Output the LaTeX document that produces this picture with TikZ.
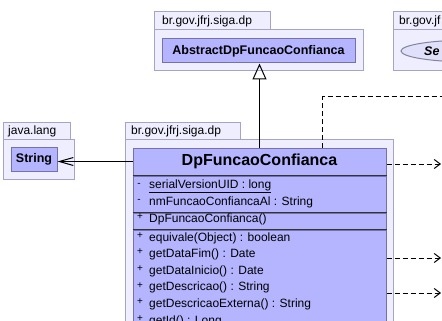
\documentclass[tikz,border=0pt]{standalone}
\usepackage{fontspec}
\setmainfont{Liberation Sans}
\usetikzlibrary{arrows.meta,shapes.geometric}

\definecolor{pkgfill}{RGB}{238,238,255}
\definecolor{pkgline}{RGB}{165,165,195}
\definecolor{clsfill}{RGB}{180,180,255}
\definecolor{clsline}{RGB}{115,115,170}
\definecolor{ifcfill}{RGB}{224,224,250}

\begin{document}
\begin{tikzpicture}[x=1pt,y=-1pt,
    pkg/.style={draw=pkgline,fill=pkgfill,line width=1pt},
    pkgname/.style={anchor=west,inner sep=0pt,font=\fontsize{12}{14}\selectfont},
    cls/.style={draw=clsline,fill=clsfill,line width=1pt,inner sep=0pt,
                font=\bfseries\fontsize{12.5}{15}\selectfont},
    sep/.style={line width=1pt,black!80},
    member/.style={anchor=west,inner sep=0pt,font=\fontsize{12}{14}\selectfont},
    vis/.style={inner sep=0pt,font=\fontsize{10}{12}\selectfont},
    assoc/.style={line width=1pt,-{Straight Barb[length=14pt,width=8pt]}},
    dep/.style={line width=1pt,dash pattern=on 5pt off 3pt,
                -{Straight Barb[length=6pt,width=9pt]}},
    gen/.style={line width=1pt,-{Triangle[open,length=16pt,width=14pt]}}]
  \useasboundingbox (0,0) rectangle (442,321);
  \clip (0,0) rectangle (442,321);

  % packages: tab + body
  \draw[pkg] (154,12) rectangle (270,30);
  \draw[pkg] (154,30) rectangle (363,71);
  \node[pkgname] (dpTop) at (162,21) {br.gov.jfrj.siga.dp};

  \draw[pkg] (393,12) rectangle (460,30);
  \draw[pkg] (393,30) rectangle (460,71);
  \node[pkgname] (modelPkg) at (399,21) {br.gov.jf};

  \draw[pkg] (3,122) rectangle (70,139);
  \draw[pkg] (3,139) rectangle (74,179);
  \node[pkgname] (langPkg) at (8,131) {java.lang};

  \draw[pkg] (125,122) rectangle (240,139);
  \draw[pkg] (125,139) rectangle (393,340);
  \node[pkgname] (dpPkg) at (131,131) {br.gov.jfrj.siga.dp};

  % classes
  \node[cls,minimum width=193pt,minimum height=24pt] (abstract) at (258.5,51) {AbstractDpFuncaoConfianca};
  \node[cls,minimum width=46pt,minimum height=24pt] (string) at (34,159.5) {String};
  \node[ellipse,draw=pkgline!80!black,fill=ifcfill,line width=1pt,
        minimum width=140pt,minimum height=22pt] (selec) at (471,51) {};
  \node[anchor=west,inner sep=0pt,font=\bfseries\itshape\fontsize{12.5}{15}\selectfont] (selecName) at (424,51) {Se};

  % DpFuncaoConfianca with its compartments
  \node[cls,minimum width=253pt,minimum height=27pt,font=\bfseries\fontsize{16}{19}\selectfont] (dpfc) at (259.5,161.5) {DpFuncaoConfianca};
  \node[cls,anchor=north,minimum width=253pt,minimum height=36pt] (attrs) at (dpfc.south) {};
  \node[cls,anchor=north,minimum width=253pt,minimum height=16pt] (ctors) at (attrs.south) {};
  \node[cls,anchor=north,minimum width=253pt,minimum height=140pt] (ops) at (ctors.south) {};
  \draw[sep] (attrs.north west) -- (attrs.north east)
             (ctors.north west) -- (ctors.north east)
             (ops.north west) -- (ops.north east);

  \node[vis] (va1) at (139,184.5) {-};
  \node[member] (a1) at (149,186) {\underline{serialVersionUID : long}};
  \node[vis] (va2) at (139,200.5) {-};
  \node[member] (a2) at (149,202) {nmFuncaoConfiancaAl : String};
  \node[vis] (vc1) at (140,216.5) {+};
  \node[member] (c1) at (149,219) {DpFuncaoConfianca()};
  \foreach \m [count=\i from 0] in {equivale(Object) : boolean, getDataFim() : Date,
      getDataInicio() : Date, getDescricao() : String,
      getDescricaoExterna() : String, getId() : Long} {
    \node[vis] (vm\i) at (140,235.5+16.6*\i) {+};
    \node[member] (m\i) at (149,238+16.6*\i) {\m};
  }

  % relations
  \draw[gen] (dpfc.north) -- (dpfc.north |- abstract.south);
  \draw[assoc] (dpfc.west) -- (dpfc.west -| string.east);

  \coordinate (up) at (322,97);
  \coordinate (upEnd) at (442,97);
  \draw[line width=1pt,dash pattern=on 5pt off 3pt] (dpfc.north -| up) -- (up) -- (upEnd);

  \coordinate (out1) at (441,164);
  \coordinate (out2) at (441,258);
  \coordinate (out3) at (441,293);
  \draw[dep] (out1 -| dpfc.east) -- (out1);
  \draw[dep] (out2 -| ops.east) -- (out2);
  \draw[dep] (out3 -| ops.east) -- (out3);
\end{tikzpicture}
\end{document}
